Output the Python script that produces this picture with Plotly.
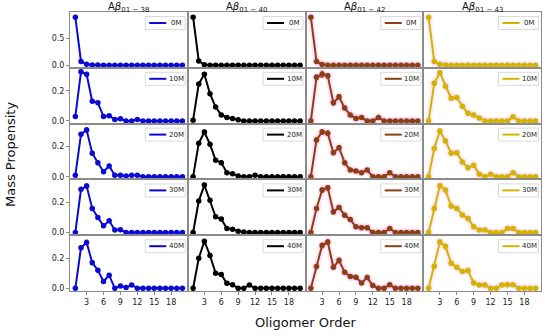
import plotly.graph_objects as go
from plotly.subplots import make_subplots

# ---------------- data ----------------
oligomer_order = list(range(1, 21))
time_labels = ["0M", "10M", "20M", "30M", "40M"]
peptide_titles = ["A<i>β</i><sub>01 − 38</sub>", "A<i>β</i><sub>01 − 40</sub>",
                  "A<i>β</i><sub>01 − 42</sub>", "A<i>β</i><sub>01 − 43</sub>"]
x_ticks = [3, 6, 9, 12, 15, 18]

# Abeta 1-38
ab38_0m = [0.89, 0.07, 0.02, 0.005, 0.003, 0.002, 0, 0, 0, 0, 0, 0, 0, 0, 0, 0, 0, 0, 0, 0]
ab38_10m = [0.03, 0.326, 0.31, 0.13, 0.12, 0.03, 0.035, 0.01, 0.015, 0, 0, 0.01, 0, 0, 0, 0, 0, 0, 0, 0]
ab38_20m = [0.01, 0.282, 0.311, 0.156, 0.093, 0.033, 0.071, 0.009, 0.01, 0.005, 0.01, 0.01, 0, 0, 0, 0, 0, 0, 0, 0]
ab38_30m = [0.0, 0.287, 0.309, 0.16, 0.1, 0.044, 0.078, 0.016, 0.018, 0, 0, 0, 0, 0, 0, 0, 0, 0, 0, 0]
ab38_40m = [0.0, 0.27, 0.305, 0.17, 0.12, 0.045, 0.087, 0.0, 0.015, 0.005, 0.022, 0, 0, 0, 0, 0, 0, 0, 0, 0]
# Abeta 1-40
ab40_0m = [0.89, 0.08, 0.01, 0, 0, 0, 0, 0, 0, 0, 0, 0, 0, 0, 0, 0, 0, 0, 0, 0]
ab40_10m = [0.005, 0.246, 0.31, 0.18, 0.092, 0.04, 0.023, 0.016, 0.007, 0, 0, 0, 0, 0, 0, 0, 0, 0, 0, 0]
ab40_20m = [0.0, 0.222, 0.297, 0.215, 0.11, 0.093, 0.027, 0.02, 0.005, 0, 0, 0.01, 0, 0, 0, 0, 0, 0, 0, 0]
ab40_30m = [0.0, 0.209, 0.315, 0.215, 0.104, 0.089, 0.027, 0.022, 0.009, 0.003, 0, 0, 0, 0, 0, 0, 0, 0, 0, 0]
ab40_40m = [0.0, 0.2, 0.313, 0.218, 0.1, 0.091, 0.033, 0.024, 0, 0, 0.022, 0, 0, 0, 0, 0, 0, 0, 0, 0]
# Abeta 1-42
ab42_0m = [0.89, 0.07, 0.015, 0, 0, 0, 0, 0, 0, 0, 0, 0, 0, 0, 0, 0, 0, 0, 0, 0]
ab42_10m = [0.0, 0.29, 0.31, 0.3, 0.12, 0.16, 0.085, 0.04, 0.016, 0.022, 0, 0, 0.022, 0, 0, 0, 0, 0, 0, 0]
ab42_20m = [0.0, 0.244, 0.297, 0.289, 0.16, 0.193, 0.093, 0.044, 0.038, 0.027, 0.044, 0, 0, 0, 0.027, 0, 0, 0, 0, 0]
ab42_30m = [0.0, 0.16, 0.282, 0.297, 0.137, 0.167, 0.115, 0.087, 0.038, 0.031, 0.031, 0, 0, 0, 0.027, 0, 0, 0, 0, 0]
ab42_40m = [0.0, 0.145, 0.285, 0.307, 0.14, 0.185, 0.107, 0.078, 0.073, 0.036, 0.071, 0.018, 0, 0, 0.024, 0, 0, 0, 0, 0]
# Abeta 1-43
ab43_0m = [0.89, 0.07, 0.02, 0.005, 0, 0, 0, 0, 0, 0, 0, 0, 0, 0, 0, 0, 0, 0, 0, 0]
ab43_10m = [0.0, 0.25, 0.32, 0.23, 0.15, 0.155, 0.097, 0.05, 0.04, 0.02, 0, 0, 0, 0, 0, 0.027, 0, 0, 0, 0]
ab43_20m = [0.0, 0.187, 0.304, 0.238, 0.156, 0.16, 0.098, 0.06, 0.076, 0.016, 0, 0.016, 0, 0, 0, 0.027, 0, 0, 0, 0]
ab43_30m = [0.0, 0.16, 0.311, 0.282, 0.176, 0.16, 0.116, 0.093, 0.038, 0.016, 0.016, 0, 0, 0, 0.027, 0.027, 0, 0, 0, 0]
ab43_40m = [0.0, 0.147, 0.307, 0.278, 0.167, 0.14, 0.111, 0.118, 0.036, 0.022, 0.022, 0, 0, 0.022, 0.024, 0.024, 0, 0, 0, 0]

# error bars (standard deviations)
ab38_0m_err = [0.01, 0.008, 0.004, 0.002, 0, 0, 0, 0, 0, 0, 0, 0, 0, 0, 0, 0, 0, 0, 0, 0]
ab38_10m_err = [0.005, 0.012, 0.012, 0.01, 0.01, 0.005, 0.005, 0.003, 0.004, 0.002, 0.002, 0.003, 0, 0, 0, 0, 0, 0, 0, 0]
ab38_20m_err = [0.004, 0.01, 0.014, 0.01, 0.008, 0.005, 0.006, 0.003, 0.003, 0.002, 0.003, 0.003, 0, 0, 0, 0, 0, 0, 0, 0]
ab38_30m_err = [0.003, 0.01, 0.014, 0.01, 0.008, 0.005, 0.008, 0.004, 0.004, 0, 0, 0, 0, 0, 0, 0, 0, 0, 0, 0]
ab38_40m_err = [0.003, 0.01, 0.015, 0.012, 0.01, 0.005, 0.01, 0.003, 0.004, 0.002, 0.004, 0, 0, 0, 0, 0, 0, 0, 0, 0]
ab40_0m_err = [0.01, 0.006, 0.003, 0, 0, 0, 0, 0, 0, 0, 0, 0, 0, 0, 0, 0, 0, 0, 0, 0]
ab40_10m_err = [0.003, 0.008, 0.012, 0.008, 0.006, 0.004, 0.003, 0.003, 0.002, 0, 0, 0, 0, 0, 0, 0, 0, 0, 0, 0]
ab40_20m_err = [0.003, 0.008, 0.012, 0.01, 0.008, 0.01, 0.004, 0.003, 0.002, 0, 0, 0.003, 0, 0, 0, 0, 0, 0, 0, 0]
ab40_30m_err = [0.003, 0.008, 0.012, 0.01, 0.008, 0.01, 0.004, 0.003, 0.002, 0, 0, 0, 0, 0, 0, 0, 0, 0, 0, 0]
ab40_40m_err = [0.003, 0.008, 0.012, 0.01, 0.008, 0.012, 0.004, 0.003, 0, 0, 0.004, 0, 0, 0, 0, 0, 0, 0, 0, 0]
ab42_0m_err = [0.01, 0.008, 0.004, 0, 0, 0, 0, 0, 0, 0, 0, 0, 0, 0, 0, 0, 0, 0, 0, 0]
ab42_10m_err = [0.003, 0.015, 0.02, 0.015, 0.015, 0.015, 0.01, 0.006, 0.004, 0.005, 0, 0, 0.005, 0, 0, 0, 0, 0, 0, 0]
ab42_20m_err = [0.003, 0.012, 0.015, 0.015, 0.012, 0.012, 0.01, 0.008, 0.006, 0.006, 0.01, 0, 0, 0, 0.006, 0, 0, 0, 0, 0]
ab42_30m_err = [0.003, 0.012, 0.015, 0.015, 0.012, 0.012, 0.012, 0.01, 0.006, 0.006, 0.006, 0, 0, 0, 0.006, 0, 0, 0, 0, 0]
ab42_40m_err = [0.003, 0.012, 0.015, 0.015, 0.012, 0.015, 0.01, 0.01, 0.008, 0.006, 0.01, 0.004, 0, 0, 0.006, 0, 0, 0, 0, 0]
ab43_0m_err = [0.01, 0.008, 0.004, 0.002, 0, 0, 0, 0, 0, 0, 0, 0, 0, 0, 0, 0, 0, 0, 0, 0]
ab43_10m_err = [0.003, 0.012, 0.015, 0.012, 0.012, 0.012, 0.01, 0.01, 0.008, 0.005, 0, 0, 0, 0, 0, 0.005, 0, 0, 0, 0]
ab43_20m_err = [0.003, 0.01, 0.012, 0.012, 0.012, 0.012, 0.01, 0.01, 0.012, 0.004, 0, 0.004, 0, 0, 0, 0.006, 0, 0, 0, 0]
ab43_30m_err = [0.003, 0.01, 0.012, 0.012, 0.012, 0.012, 0.012, 0.014, 0.008, 0.004, 0.004, 0, 0, 0, 0.006, 0.006, 0, 0, 0, 0]
ab43_40m_err = [0.003, 0.01, 0.012, 0.015, 0.012, 0.012, 0.01, 0.014, 0.008, 0.005, 0.005, 0, 0, 0.005, 0.006, 0.006, 0, 0, 0, 0]

series = [
    [ab38_0m, ab38_10m, ab38_20m, ab38_30m, ab38_40m],
    [ab40_0m, ab40_10m, ab40_20m, ab40_30m, ab40_40m],
    [ab42_0m, ab42_10m, ab42_20m, ab42_30m, ab42_40m],
    [ab43_0m, ab43_10m, ab43_20m, ab43_30m, ab43_40m],
]
errors = [
    [ab38_0m_err, ab38_10m_err, ab38_20m_err, ab38_30m_err, ab38_40m_err],
    [ab40_0m_err, ab40_10m_err, ab40_20m_err, ab40_30m_err, ab40_40m_err],
    [ab42_0m_err, ab42_10m_err, ab42_20m_err, ab42_30m_err, ab42_40m_err],
    [ab43_0m_err, ab43_10m_err, ab43_20m_err, ab43_30m_err, ab43_40m_err],
]

# ---------------- styles ----------------
line_colors = ["#0a0ad4", "#000000", "#8b3f14", "#d2b400"]
err_colors = ["#0a0ad4", "#000000", "#e0201a", "#d2b400"]
glow_colors = [None, None, "rgba(255,140,225,0.22)", "rgba(255,150,225,0.16)"]
spine = "#8a8a8a"
FONT = "DejaVu Sans"

W, H = 550, 336
ML, MR, MT, MB = 70, 9, 12, 45
plot_w = W - ML - MR
plot_h = H - MT - MB
col_w = plot_w / 4
row_h = plot_h / 5

fig = make_subplots(rows=5, cols=4, shared_xaxes=True, shared_yaxes=True,
                    horizontal_spacing=0, vertical_spacing=0)

for c in range(4):
    for r in range(5):
        y = series[c][r]
        e = errors[c][r]
        if glow_colors[c]:
            fig.add_trace(go.Scatter(x=oligomer_order, y=y, mode="lines+markers",
                                     line=dict(color=glow_colors[c], width=6),
                                     marker=dict(color=glow_colors[c], size=9),
                                     hoverinfo="skip", showlegend=False),
                          row=r + 1, col=c + 1)
        fig.add_trace(go.Scatter(x=oligomer_order, y=y, mode="lines+markers",
                                 name=time_labels[r],
                                 line=dict(color=line_colors[c], width=2),
                                 marker=dict(color=line_colors[c], size=5.5),
                                 error_y=dict(type="data", array=e, visible=True,
                                              color=err_colors[c], thickness=1, width=1.5),
                                 showlegend=False),
                      row=r + 1, col=c + 1)

        idx = r * 4 + c + 1
        ax = "x" if idx == 1 else f"x{idx}"
        ay = "y" if idx == 1 else f"y{idx}"
        # legend box
        bx0 = 1 - 42.5 / col_w
        bx1 = 1 - 2.5 / col_w
        by1 = 1 - 4.5 / row_h
        by0 = 1 - 17.5 / row_h
        fig.add_shape(type="rect", xref=f"{ax} domain", yref=f"{ay} domain",
                      x0=bx0, x1=bx1, y0=by0, y1=by1,
                      line=dict(color="#d0d0d0", width=0.8), fillcolor="rgba(255,255,255,0.85)")
        ym = (by0 + by1) / 2
        fig.add_shape(type="line", xref=f"{ax} domain", yref=f"{ay} domain",
                      x0=bx0 + 4 / col_w, x1=bx0 + 21 / col_w, y0=ym, y1=ym,
                      line=dict(color=line_colors[c], width=2))
        fig.add_annotation(xref=f"{ax} domain", yref=f"{ay} domain",
                           x=bx0 + 31 / col_w, y=ym, text=time_labels[r], showarrow=False,
                           xanchor="center", yanchor="middle",
                           font=dict(family=FONT, size=7, color="#222"))

    # column title
    ax = "x" if c == 0 else f"x{c + 1}"
    fig.add_annotation(xref=f"{ax} domain", yref="paper", x=0.5, y=1,
                       yanchor="bottom", yshift=-4, text=peptide_titles[c], showarrow=False,
                       font=dict(family=FONT, size=10, color="#111"))

# axes
for i in range(1, 21):
    r = (i - 1) // 4
    c = (i - 1) % 4
    xa = "xaxis" if i == 1 else f"xaxis{i}"
    ya = "yaxis" if i == 1 else f"yaxis{i}"
    fig.layout[xa].update(range=[0.05, 20.95], tickvals=x_ticks,
                          showline=True, mirror=True, linecolor=spine, linewidth=1,
                          showgrid=False, zeroline=False,
                          ticks="outside" if r == 4 else "", ticklen=3, tickcolor=spine,
                          showticklabels=(r == 4),
                          tickfont=dict(family=FONT, size=8, color="#222"))
    if r == 0:
        yr, yt = [-0.047, 0.985], [0.0, 0.5]
    else:
        yr, yt = [-0.018, 0.353], [0.0, 0.2]
    fig.layout[ya].update(range=yr, tickvals=yt, tickformat=".1f",
                          showline=True, mirror=True, linecolor=spine, linewidth=1,
                          showgrid=False, zeroline=False,
                          ticks="outside" if c == 0 else "", ticklen=3, tickcolor=spine,
                          showticklabels=(c == 0),
                          tickfont=dict(family=FONT, size=8, color="#222"))

fig.add_annotation(xref="paper", yref="paper", x=(10 - ML) / plot_w, y=(H - MB - 155) / plot_h,
                   text="Mass Propensity", textangle=-90, showarrow=False,
                   xanchor="center", yanchor="middle",
                   font=dict(family=FONT, size=13, color="#111"))
fig.add_annotation(xref="paper", yref="paper", x=(305 - ML) / plot_w, y=(H - MB - 322) / plot_h,
                   text="Oligomer Order", showarrow=False,
                   xanchor="center", yanchor="middle",
                   font=dict(family=FONT, size=13, color="#111"))

fig.update_layout(width=W, height=H, margin=dict(l=ML, r=MR, t=MT, b=MB),
                  paper_bgcolor="white", plot_bgcolor="white", showlegend=False,
                  hovermode=False, font=dict(family=FONT))

fig.write_html("out.html", config={"displayModeBar": False, "staticPlot": True},
               post_script="document.body.style.margin='0';document.body.style.overflow='hidden';")
